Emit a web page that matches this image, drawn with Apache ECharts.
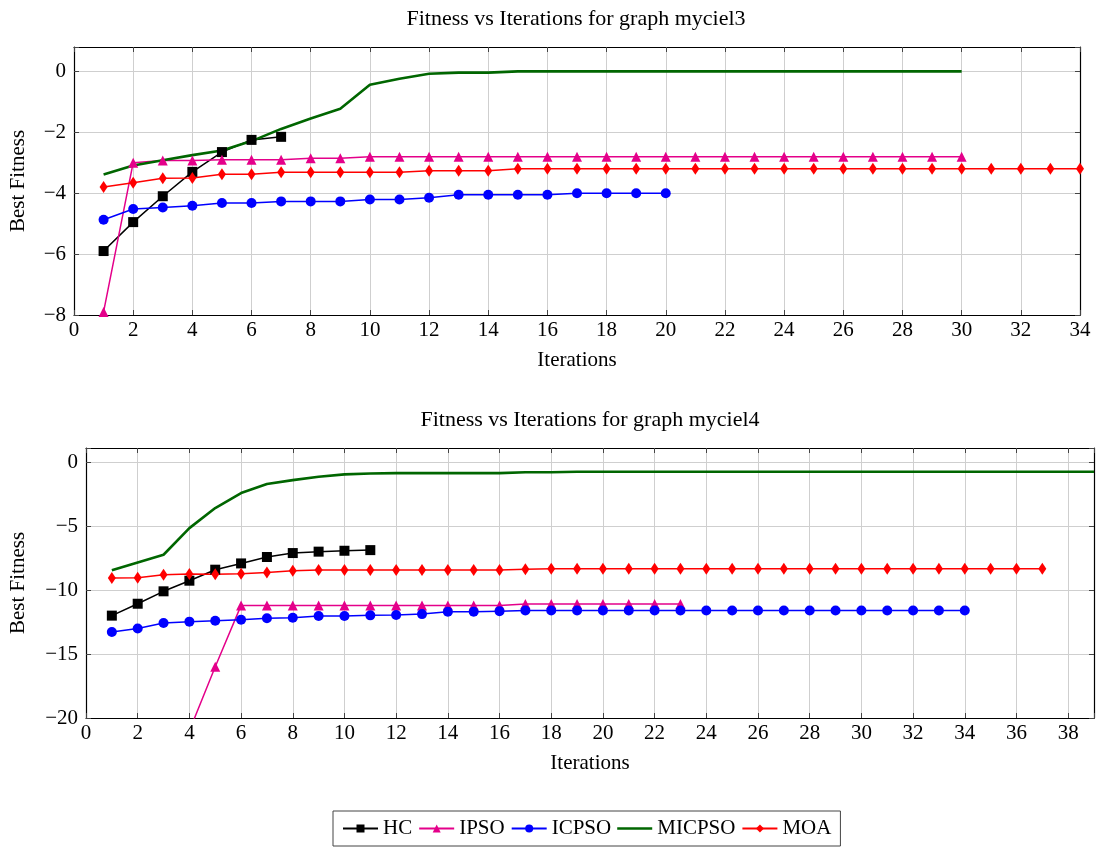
<!DOCTYPE html>
<html>
<head>
<meta charset="utf-8">
<script src="https://cdn.jsdelivr.net/npm/echarts@6/dist/echarts.min.js"></script>
<style>
html,body{margin:0;padding:0;background:#fff;}
#main{width:1097px;height:848px;}
</style>
</head>
<body>
<div id="main"></div>
<script>
// ---- Data: myciel3 (top chart), values per iteration starting at 1 ----
const hc3 = [-5.9, -4.95, -4.1, -3.3, -2.65, -2.25, -2.15];
const ipso3 = [-7.9, -3.0, -2.93, -2.93, -2.9, -2.9, -2.9, -2.85, -2.85, -2.8,
  -2.8, -2.8, -2.8, -2.8, -2.8, -2.8, -2.8, -2.8, -2.8, -2.8,
  -2.8, -2.8, -2.8, -2.8, -2.8, -2.8, -2.8, -2.8, -2.8, -2.8];
const icpso3 = [-4.87, -4.52, -4.47, -4.41, -4.32, -4.32, -4.27, -4.27, -4.27, -4.21,
  -4.21, -4.15, -4.05, -4.05, -4.05, -4.05, -4.0, -4.0, -4.0, -4.0];
const micpso3 = [-3.39, -3.09, -2.92, -2.75, -2.6, -2.29, -1.89, -1.55, -1.23, -0.44,
  -0.24, -0.08, -0.04, -0.04, 0, 0, 0, 0, 0, 0,
  0, 0, 0, 0, 0, 0, 0, 0, 0, 0];
const moa3 = [-3.8, -3.66, -3.51, -3.5, -3.38, -3.38, -3.31, -3.31, -3.31, -3.31,
  -3.31, -3.26, -3.26, -3.26, -3.2, -3.2, -3.2, -3.2, -3.2, -3.2,
  -3.2, -3.2, -3.2, -3.2, -3.2, -3.2, -3.2, -3.2, -3.2, -3.2,
  -3.2, -3.2, -3.2, -3.2];

// ---- Data: myciel4 (bottom chart) ----
const hc4 = [-12.0, -11.07, -10.1, -9.27, -8.41, -7.92, -7.42, -7.11, -7.0, -6.93, -6.88];
const ipso4 = [-28, -25, -23, -21, -16.0, -11.2, -11.2, -11.2, -11.2, -11.2,
  -11.2, -11.2, -11.2, -11.2, -11.2, -11.2, -11.1, -11.1, -11.1, -11.1,
  -11.1, -11.1, -11.1];
const icpso4 = [-13.28, -13.0, -12.58, -12.47, -12.4, -12.32, -12.21, -12.16, -12.03, -12.03,
  -11.98, -11.95, -11.88, -11.7, -11.7, -11.65, -11.6, -11.6, -11.6, -11.6,
  -11.6, -11.6, -11.6, -11.6, -11.6, -11.6, -11.6, -11.6, -11.6, -11.6,
  -11.6, -11.6, -11.6, -11.6];
const micpso4 = [-8.46, -7.84, -7.24, -5.16, -3.59, -2.42, -1.72, -1.41, -1.15, -0.96,
  -0.89, -0.86, -0.86, -0.86, -0.86, -0.86, -0.8, -0.8, -0.76, -0.76,
  -0.76, -0.76, -0.76, -0.76, -0.76, -0.76, -0.76, -0.76, -0.76, -0.76,
  -0.76, -0.76, -0.76, -0.76, -0.76, -0.76, -0.76, -0.76, -0.76];
const moa4 = [-9.06, -9.04, -8.8, -8.75, -8.77, -8.72, -8.62, -8.49, -8.44, -8.44,
  -8.44, -8.44, -8.44, -8.44, -8.44, -8.44, -8.38, -8.34, -8.34, -8.34,
  -8.34, -8.34, -8.34, -8.34, -8.34, -8.34, -8.34, -8.34, -8.34, -8.34,
  -8.34, -8.34, -8.34, -8.34, -8.34, -8.34, -8.34];

const seriesNames = ['HC', 'IPSO', 'ICPSO', 'MICPSO', 'MOA'];
const titles = ['Fitness vs Iterations for graph myciel3', 'Fitness vs Iterations for graph myciel4'];

// ---- Styling ----
const FONT = "'Liberation Serif', 'DejaVu Serif', serif";
const FS = 21;
const styles = {
  HC:     {color: '#000000', symbol: 'rect', symbolSize: 10, width: 1.5},
  IPSO:   {color: '#e4008a', symbol: 'triangle', symbolSize: 10, width: 1.5},
  ICPSO:  {color: '#0000ff', symbol: 'circle', symbolSize: 10, width: 1.5},
  MICPSO: {color: '#006600', symbol: 'none', symbolSize: 0, width: 2.6},
  MOA:    {color: '#ff0000', symbol: 'diamond', symbolSize: [8, 12], width: 1.5}
};

function fmt(interval) {
  return function (v) {
    if (Math.abs(v / interval - Math.round(v / interval)) > 1e-6) return '';
    return String(v).replace('-', '\u2212');
  };
}

const gridLine = {show: true, lineStyle: {color: '#cfcfcf', width: 1}};
const frameLine = {show: true, onZero: false, lineStyle: {color: '#000', width: 1.2}};
const tickIn = {show: true, inside: true, length: 5, lineStyle: {color: '#444'}};
const labelStyle = {color: '#000', fontFamily: FONT, fontSize: FS};
const nameStyle = {color: '#000', fontFamily: FONT, fontSize: FS};

function xAxes(gi, max) {
  return [
    {type: 'value', gridIndex: gi, min: 0, max: max, interval: 2, position: 'bottom',
     axisLine: frameLine, axisTick: tickIn, splitLine: gridLine,
     axisLabel: Object.assign({formatter: fmt(2), margin: 5}, labelStyle),
     name: 'Iterations', nameLocation: 'middle', nameGap: 35, nameTextStyle: nameStyle},
    {type: 'value', gridIndex: gi, min: 0, max: max, interval: 2, position: 'top',
     axisLine: frameLine, axisTick: tickIn, splitLine: {show: false}, axisLabel: {show: false}}
  ];
}
function yAxes(gi, min, max, interval, gap) {
  return [
    {type: 'value', gridIndex: gi, min: min, max: max, interval: interval, position: 'left',
     axisLine: frameLine, axisTick: tickIn, splitLine: gridLine,
     axisLabel: Object.assign({formatter: fmt(interval), margin: 8}, labelStyle),
     name: 'Best Fitness', nameLocation: 'middle', nameGap: gap, nameRotate: 90,
     nameTextStyle: nameStyle},
    {type: 'value', gridIndex: gi, min: min, max: max, interval: interval, position: 'right',
     axisLine: frameLine, axisTick: tickIn, splitLine: {show: false}, axisLabel: {show: false}}
  ];
}

const dataTop = [hc3, ipso3, icpso3, micpso3, moa3];
const dataBot = [hc4, ipso4, icpso4, micpso4, moa4];

const series = [];
[dataTop, dataBot].forEach(function (set, gi) {
  set.forEach(function (arr, k) {
    const name = seriesNames[k];
    const s = styles[name];
    series.push({
      name: name, type: 'line',
      xAxisIndex: gi * 2, yAxisIndex: gi * 2,
      data: arr.map(function (v, i) { return [i + 1, v]; }),
      symbol: s.symbol, symbolSize: s.symbolSize, showSymbol: s.symbol !== 'none',
      lineStyle: {color: s.color, width: s.width},
      itemStyle: {color: s.color},
      clip: true, animation: false
    });
  });
});

const legendData = seriesNames.map(function (n) {
  if (n === 'MICPSO') return {name: n, icon: 'path://M0,0H36V2.6H0Z'};
  return {name: n};
});

const chart = echarts.init(document.getElementById('main'), null, {renderer: 'canvas'});
chart.setOption({
  backgroundColor: '#fff',
  animation: false,
  title: [
    {text: titles[0], left: 571, top: 3, textAlign: 'center',
     textStyle: {fontFamily: FONT, fontSize: 22, fontWeight: 'normal', color: '#000'}},
    {text: titles[1], left: 585, top: 404, textAlign: 'center',
     textStyle: {fontFamily: FONT, fontSize: 22, fontWeight: 'normal', color: '#000'}}
  ],
  grid: [
    {left: 72, top: 47, width: 1008, height: 268},
    {left: 83, top: 448, width: 1014, height: 270}
  ],
  xAxis: xAxes(0, 34).concat(xAxes(1, 39)),
  yAxis: yAxes(0, -8, 0.8, 2, 45).concat(yAxes(1, -20, 1.1, 5, 57)),
  legend: {
    data: legendData, left: 333, top: 811,
    orient: 'horizontal', itemGap: 6, itemWidth: 35, itemHeight: 10,
    padding: [7, 9, 7, 9],
    borderColor: '#444', borderWidth: 1,
    textStyle: {fontFamily: FONT, fontSize: FS, color: '#000'}
  },
  series: series
});
</script>
</body>
</html>
